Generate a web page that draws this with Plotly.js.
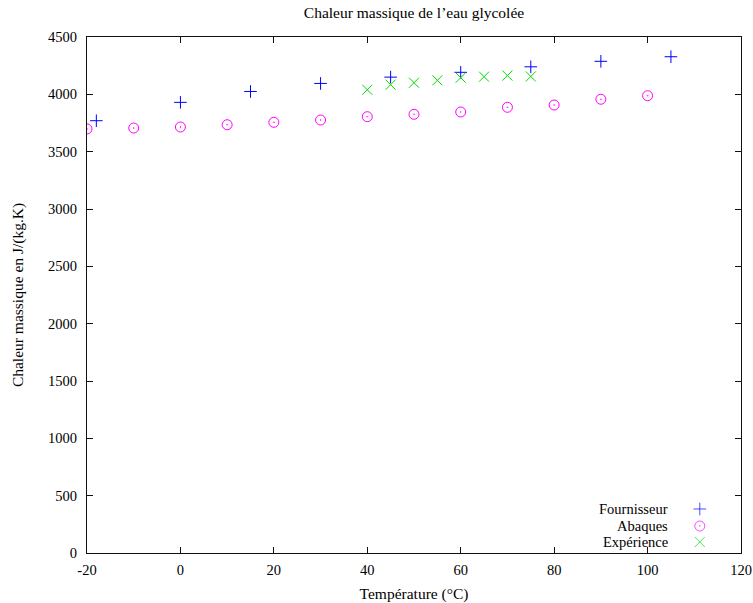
<!DOCTYPE html>
<html>
<head>
<meta charset="utf-8">
<script src="https://cdn.plot.ly/plotly-3.0.1.min.js"></script>
<style>html,body{margin:0;padding:0;background:#fff;}#chart{width:753px;height:603px;}</style>
</head>
<body>
<div id="chart"></div>
<script>
// Data
const fournisseurT = [-18, 0, 15, 30, 45, 60, 75, 90, 105];
const fournisseurCp = [3770, 3930, 4025, 4095, 4150, 4192, 4240, 4288, 4328];

const abaquesT = [-20, -10, 0, 10, 20, 30, 40, 50, 60, 70, 80, 90, 100];
const abaquesCp = [3698, 3706, 3715, 3735, 3756, 3776, 3805, 3826, 3846, 3887, 3907, 3957, 3988];

const experienceT = [40, 45, 50, 55, 60, 65, 70, 75];
const experienceCp = [4040, 4084, 4101, 4122, 4145, 4154, 4163, 4156];

const seriesNames = ['Fournisseur', 'Abaques', 'Expérience'];
const xTicks = [-20, 0, 20, 40, 60, 80, 100, 120];
const yTicks = [0, 500, 1000, 1500, 2000, 2500, 3000, 3500, 4000, 4500];

const FONT = 'Liberation Serif, DejaVu Serif, serif';
const colors = ['#0000ff', '#ff00ff', '#00dd00'];
const symbols = ['cross-thin-open', 'circle-open-dot', 'x-thin-open'];
const sizes = [9, 10, 10];

const xs = [fournisseurT, abaquesT, experienceT];
const ys = [fournisseurCp, abaquesCp, experienceCp];

const traces = xs.map((x, i) => ({
  type: 'scatter', mode: 'markers', x: x, y: ys[i], name: seriesNames[i],
  marker: {symbol: symbols[i], size: sizes[i], color: colors[i], line: {color: colors[i], width: 1}},
  showlegend: false, hoverinfo: 'x+y'
}));

// custom gnuplot-style key: text on the left, symbol on the right
const keyY = [0.0853, 0.0523, 0.0213];
traces.push({
  type: 'scatter', mode: 'markers', xaxis: 'x2', yaxis: 'y2',
  x: seriesNames.map(() => 0.937), y: keyY,
  marker: {symbol: symbols, size: sizes, color: colors, line: {color: colors, width: 1}},
  showlegend: false, hoverinfo: 'skip'
});

const annotations = seriesNames.map((n, i) => ({
  xref: 'paper', yref: 'paper', x: 0.891, y: keyY[i], xanchor: 'right', yanchor: 'middle',
  text: n, showarrow: false, font: {family: FONT, size: 14.5, color: '#000'}
}));

const axisCommon = {
  showgrid: false, zeroline: false, showline: true, linecolor: '#111', linewidth: 1,
  mirror: 'ticks', ticks: 'inside', ticklen: 6, tickcolor: '#111', tickwidth: 1,
  tickfont: {family: FONT, size: 14.5, color: '#000'}
};

const layout = {
  width: 753, height: 603,
  margin: {l: 87, r: 12, t: 37, b: 50},
  paper_bgcolor: '#fff', plot_bgcolor: '#fff',
  title: {text: 'Chaleur massique de l’eau glycolée', font: {family: FONT, size: 15.5, color: '#000'},
          xref: 'paper', x: 0.5, xanchor: 'center', yref: 'container', y: 0.979, yanchor: 'middle'},
  xaxis: Object.assign({}, axisCommon, {
    range: [-20, 120], tickvals: xTicks, ticktext: xTicks.map(String), ticklabelstandoff: 4,
    title: {text: 'Température (°C)', font: {family: FONT, size: 15.5, color: '#000'}, standoff: 10}
  }),
  yaxis: Object.assign({}, axisCommon, {
    range: [0, 4500], tickvals: yTicks, ticktext: yTicks.map(String), ticklabelstandoff: 6,
    title: {text: 'Chaleur massique en J/(kg.K)', font: {family: FONT, size: 15.5, color: '#000'}, standoff: 20}
  }),
  xaxis2: {overlaying: 'x', range: [0, 1], visible: false, fixedrange: true},
  yaxis2: {overlaying: 'y', range: [0, 1], visible: false, fixedrange: true},
  annotations: annotations,
  showlegend: false
};

Plotly.newPlot('chart', traces, layout, {displayModeBar: false, staticPlot: true});
</script>
</body>
</html>
